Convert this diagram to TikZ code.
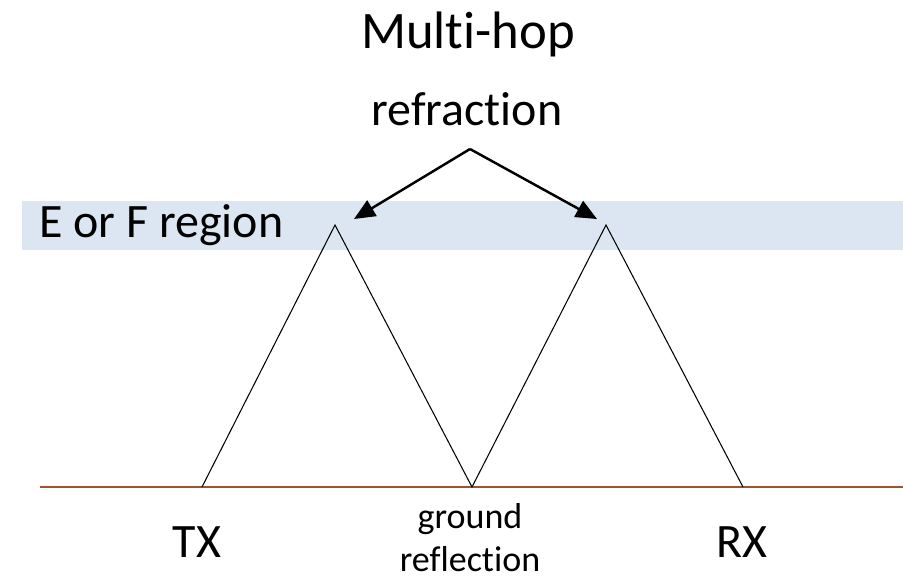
\documentclass[tikz,border=0pt]{standalone}
\usepackage{fontspec}
\setmainfont{Carlito}[Ligatures={NoCommon}]
\usetikzlibrary{arrows.meta}
\definecolor{bandblue}{HTML}{DCE6F2}
\definecolor{groundbrown}{HTML}{A0522D}
\begin{document}
\begin{tikzpicture}[x=0.02cm,y=-0.02cm,
  big/.style={font=\fontsize{27.3}{32}\selectfont, inner sep=0pt, anchor=base},
  small/.style={font=\fontsize{20.5}{24.5}\selectfont, inner sep=0pt, anchor=north, align=center},
  ray/.style={line width=0.6pt},
  pointer/.style={line width=1.4pt, -{Triangle[length=0.42cm,width=0.36cm]}}]
\useasboundingbox (0,0) rectangle (903,579);
% ionosphere layer and ground
\fill[bandblue] (22,201) rectangle (903,250);
\draw[groundbrown, line width=0.9pt] (40,487) -- (903,487);
\node[big, font=\fontsize{30}{36}\selectfont] (hop) at (468,48) {Multi-hop};
\node[big] (refr) at (467,125) {refraction};
\node[big, anchor=base west] (layer) at (39,237) {E or F region};
\node[big] (txlabel) at (197,557) {TX};
\node[big] (rxlabel) at (742,557) {RX};
\node[small] (gndlabel) at (470,503) {ground\\reflection};
% hop points
\coordinate (tx) at (202,487);
\coordinate (top1) at (335,225);
\coordinate (gnd) at (472,487);
\coordinate (top2) at (606,225);
\coordinate (rx) at (743,487);
\draw[ray] (tx) -- (top1) -- (gnd) -- (top2) -- (rx);
\coordinate (apex) at (470,149);
\coordinate (tip1) at (354,219);
\coordinate (tip2) at (597,219);
\draw[pointer] (apex) -- (tip1);
\draw[pointer] (apex) -- (tip2);
\end{tikzpicture}
\end{document}
